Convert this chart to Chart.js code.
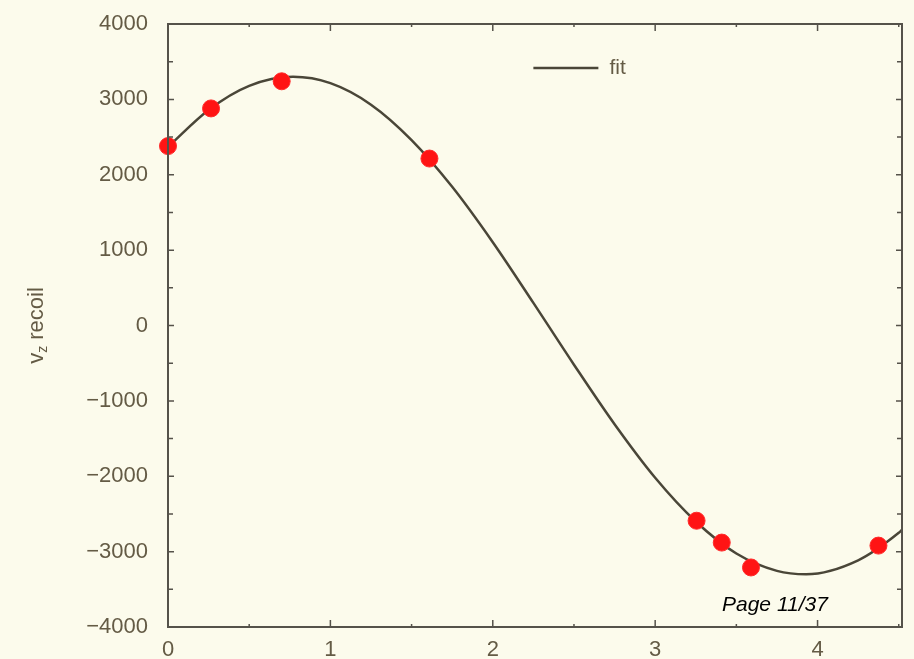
<!DOCTYPE html>
<html>
<head>
<meta charset="utf-8">
<script src="https://cdn.jsdelivr.net/npm/chart.js@4/dist/chart.umd.min.js"></script>
<style>
  html, body { margin: 0; padding: 0; background: #fcfbec; }
  #wrap { position: relative; width: 914px; height: 659px; }
  #page {
    position: absolute; left: 722px; top: 592px;
    font: italic 21px "Liberation Sans", Arial, sans-serif; color: #000;
  }
</style>
</head>
<body>
<div id="wrap">
  <canvas id="chart" width="914" height="659"></canvas>
  <div id="page">Page 11/37</div>
</div>
<script>
// fit curve (plus its top and bottom turning points)
const fitX = [0, 0.25, 0.5, 0.77, 1, 1.25, 1.5, 1.75, 2, 2.25, 2.5, 2.75, 3, 3.25, 3.5, 3.75, 3.93, 4.25, 4.5, 4.52]
const fitY = [2370, 2860, 3180, 3300, 3215, 2930, 2460, 1840, 1105, 300, -520, -1310, -2020, -2600, -3025, -3255, -3300, -3115, -2750, -2710]

// measured points
const pointX = [0, 0.265, 0.70, 1.61, 3.255, 3.41, 3.59, 4.375]
const pointY = [2380, 2880, 3240, 2215, -2590, -2880, -3210, -2920]

const xMin = 0, xMax = 4.52
const yMin = -4000, yMax = 4000

const textColor = '#645b45'
const frameColor = '#55524a'
const font = '"Liberation Sans", Arial, sans-serif'

const framePlugin = {
  id: 'frame',
  afterDraw(chart) {
    const { ctx, chartArea: a, scales: { x, y } } = chart
    ctx.save()
    ctx.strokeStyle = frameColor
    ctx.lineWidth = 2
    ctx.strokeRect(a.left, a.top, a.right - a.left, a.bottom - a.top)

    // inward ticks
    ctx.lineWidth = 1.5
    for (let v = yMin + 500; v < yMax; v += 500) {
      const py = y.getPixelForValue(v)
      const len = v % 1000 === 0 ? 6 : 5
      ctx.beginPath()
      ctx.moveTo(a.left, py); ctx.lineTo(a.left + len, py)
      ctx.moveTo(a.right, py); ctx.lineTo(a.right - len, py)
      ctx.stroke()
    }
    for (let v = 0.5; v < xMax; v += 0.5) {
      const px = x.getPixelForValue(v)
      const len = v % 1 === 0 ? 7 : 3
      ctx.beginPath()
      ctx.moveTo(px, a.bottom); ctx.lineTo(px, a.bottom - len)
      ctx.moveTo(px, a.top); ctx.lineTo(px, a.top + len)
      ctx.stroke()
    }

    // legend
    const lx = x.getPixelForValue(2.25), ly = a.top + 44
    ctx.strokeStyle = '#4a4638'
    ctx.lineWidth = 2.5
    ctx.beginPath()
    ctx.moveTo(lx, ly); ctx.lineTo(lx + 65, ly)
    ctx.stroke()
    ctx.fillStyle = textColor
    ctx.font = '21px ' + font
    ctx.textBaseline = 'middle'
    ctx.fillText('fit', lx + 76, ly)

    // y title: v_z recoil
    ctx.translate(36, y.getPixelForValue(0))
    ctx.rotate(-Math.PI / 2)
    ctx.textBaseline = 'alphabetic'
    const big = '22px ' + font
    const small = '14px ' + font
    ctx.font = big
    const w1 = ctx.measureText('v').width
    const w3 = ctx.measureText(' recoil').width
    ctx.font = small
    const w2 = ctx.measureText('z').width
    let sx = -(w1 + w2 + w3) / 2
    ctx.font = big
    ctx.fillText('v', sx, 7)
    sx += w1
    ctx.font = small
    ctx.fillText('z', sx, 11)
    sx += w2
    ctx.font = big
    ctx.fillText(' recoil', sx, 7)
    ctx.restore()
  }
}

new Chart(document.getElementById('chart'), {
  type: 'scatter',
  data: {
    datasets: [
      {
        label: 'data',
        data: pointX.map((v, i) => ({ x: v, y: pointY[i] })),
        pointRadius: 8.5,
        pointBackgroundColor: '#ff1414',
        pointBorderColor: '#ff2a2a',
        pointBorderWidth: 1,
        clip: false,
        order: 0,
      },
      {
        label: 'fit',
        data: fitX.map((v, i) => ({ x: v, y: fitY[i] })),
        showLine: true,
        borderColor: '#4a4638',
        borderWidth: 2.5,
        pointRadius: 0,
        cubicInterpolationMode: 'monotone',
        order: 1,
      }
    ]
  },
  options: {
    responsive: false,
    animation: false,
    layout: { padding: { top: 24, right: 12, left: 0, bottom: 0 } },
    plugins: { legend: { display: false }, tooltip: { enabled: false } },
    scales: {
      x: {
        type: 'linear', min: xMin, max: xMax,
        grid: { display: false, drawTicks: false },
        border: { display: false },
        ticks: {
          stepSize: 1, includeBounds: false, padding: 10, color: textColor,
          font: { family: font, size: 22 },
          maxRotation: 0,
        },
        afterFit(s) { s.height = 32; s.paddingLeft = 0; s.paddingRight = 0 }
      },
      y: {
        type: 'linear', min: yMin, max: yMax,
        grid: { display: false, drawTicks: false },
        border: { display: false },
        ticks: {
          stepSize: 1000, padding: 20, color: textColor,
          font: { family: font, size: 22 },
          callback: v => String(v).replace('-', '\u2212'),
        },
        afterFit(s) { s.width = 168; s.paddingTop = 0; s.paddingBottom = 0 }
      }
    }
  },
  plugins: [framePlugin]
})
</script>
</body>
</html>
